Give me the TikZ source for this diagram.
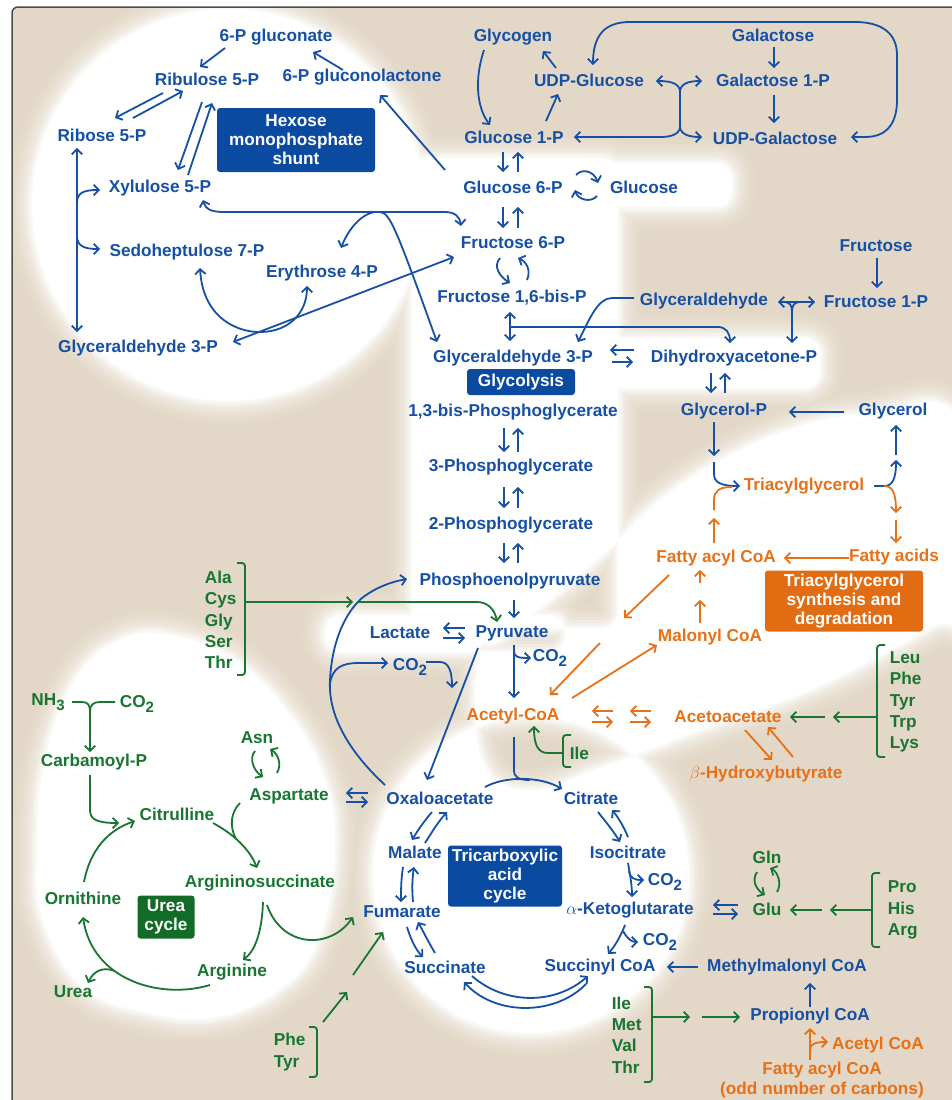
\documentclass[tikz,border=0pt]{standalone}
\usepackage{fontspec}
\setmainfont{Liberation Sans}
\usetikzlibrary{arrows.meta,calc}

\definecolor{mblue}{RGB}{22,80,165}
\definecolor{morange}{RGB}{232,112,22}
\definecolor{mgreen}{RGB}{24,118,50}
\definecolor{bgbeige}{RGB}{227,216,199}
\definecolor{boxblue}{RGB}{10,74,160}
\definecolor{boxorange}{RGB}{226,108,18}
\definecolor{boxgreen}{RGB}{18,108,40}

\newcommand\lsub[1]{\raisebox{-0.3em}{\fontsize{15}{15}\selectfont #1}}

\newcommand\glowshapes{(228,205) circle[radius=196pt] (531,875) circle[radius=158pt]
  plot[smooth cycle, tension=0.7] coordinates {(478,655) (500,640) (550,600) (610,548) (660,500) (725,458) (795,428) (865,414) (958,420) (958,605) (930,628) (817,687) (700,730) (600,768) (530,790) (482,760)}
  plot[smooth cycle, tension=0.7] coordinates {(37,850) (45,760) (75,680) (120,640) (170,635) (235,660) (290,715) (325,780) (335,850) (320,935) (283,987) (217,1017) (150,1013) (83,987) (43,920)}
  [rounded corners=16pt] (412,158) rectangle (618,628) (412,163) rectangle (732,207)
  (590,338) rectangle (820,388) (325,615) rectangle (565,652)}

\tikzset{
  met/.style={inner sep=0pt, font=\fontsize{17.2}{20}\selectfont\bfseries},
  bmet/.style={met, text=mblue},
  omet/.style={met, text=morange},
  gmet/.style={met, text=mgreen},
  aalist/.style={met, text=mgreen, align=left, anchor=west, font=\fontsize{17.2}{21.3}\selectfont\bfseries},
  namebox/.style={met, fill=#1, text=white, align=center, rounded corners=3pt, font=\fontsize{17.2}{19}\selectfont\bfseries},
  blu/.style={draw=mblue},
  org/.style={draw=morange},
  grn/.style={draw=mgreen},
  brk/.style={draw=mgreen, rounded corners=3pt},
}

\begin{document}
\begin{tikzpicture}[x=1pt, y=-1pt, line width=1.8pt, >={Straight Barb[length=5pt,width=10.5pt]}]
\useasboundingbox (0,0) rectangle (952,1100);

% ground
\fill[white] (0,0) rectangle (952,1100);
\fill[bgbeige, rounded corners=6pt] (12,7) rectangle (960,1110);
\begin{scope}
  \clip (12,7) rectangle (952,1100);
  \foreach \w/\c in {46/95,38/88,30/78,23/66,16/52,10/36,5/18}
    \draw[line width=\w pt, bgbeige!\c!white, line join=round] \glowshapes;
  \fill[white] \glowshapes;
\end{scope}
\draw[line width=1.5pt, black!70, rounded corners=6pt] (12,1110) -- (12,7) -- (960,7);

% metabolites
\node[bmet] (gluconate) at (276,37) {6-P gluconate};
\node[bmet] (ribulose) at (207,79) {Ribulose 5-P};
\node[bmet] (lactone) at (362,77) {6-P gluconolactone};
\node[bmet] (ribose) at (102,135) {Ribose 5-P};
\node[bmet] (xylulose) at (160,188) {Xylulose 5-P};
\node[bmet] (sedo) at (187,252) {Sedoheptulose 7-P};
\node[bmet] (erythrose) at (322,273) {Erythrose 4-P};
\node[bmet] (gapL) at (138,348) {Glyceraldehyde 3-P};
\node[bmet] (glycogen) at (513,37) {Glycogen};
\node[bmet] (udpglc) at (589,80) {UDP-Glucose};
\node[bmet] (galactose) at (773,35) {Galactose};
\node[bmet] (gal1p) at (773,80) {Galactose 1-P};
\node[bmet] (udpgal) at (775,138) {UDP-Galactose};
\node[bmet] (glc1p) at (514,137) {Glucose 1-P};
\node[bmet] (glc6p) at (513,187) {Glucose 6-P};
\node[bmet] (glucose) at (644,187) {Glucose};
\node[bmet] (fru6p) at (513,243) {Fructose 6-P};
\node[bmet] (fbp) at (512,298) {Fructose 1,6-bis-P};
\node[bmet] (glyald) at (704,301) {Glyceraldehyde};
\node[bmet] (fructose) at (876,246) {Fructose};
\node[bmet] (fru1p) at (876,302) {Fructose 1-P};
\node[bmet] (gap) at (513,358) {Glyceraldehyde 3-P};
\node[bmet] (dhap) at (734,358) {Dihydroxyacetone-P};
\node[bmet] (bpg) at (513,412) {1,3-bis-Phosphoglycerate};
\node[bmet] (pg3) at (511,467) {3-Phosphoglycerate};
\node[bmet] (pg2) at (511,525) {2-Phosphoglycerate};
\node[bmet] (pep) at (510,581) {Phosphoenolpyruvate};
\node[bmet] (lactate) at (400,633) {Lactate};
\node[bmet] (pyruvate) at (512,633) {Pyruvate};
\node[bmet] (co2a) at (550,658) {CO\lsub{2}};
\node[bmet] (co2b) at (410,667) {CO\lsub{2}};
\node[omet] (acetyl) at (513,716) {Acetyl-CoA};
\node[bmet] (oaa) at (440,798) {Oxaloacetate};
\node[bmet] (citrate) at (591,798) {Citrate};
\node[gmet] (aspartate) at (289,796) {Aspartate};
\node[gmet] (asn) at (257,738) {Asn};
\node[bmet] (malate) at (415,852) {Malate};
\node[bmet] (isocitrate) at (628,852) {Isocitrate};
\node[bmet] (co2c) at (665,882) {CO\lsub{2}};
\node[bmet] (akg) at (630,910) {$\alpha$-Ketoglutarate};
\node[bmet] (co2d) at (660,942) {CO\lsub{2}};
\node[bmet] (fumarate) at (402,912) {Fumarate};
\node[bmet] (succinate) at (445,967) {Succinate};
\node[bmet] (succcoa) at (600,967) {Succinyl CoA};
\node[bmet] (methylmal) at (787,967) {Methylmalonyl CoA};
\node[bmet] (propionyl) at (810,1016) {Propionyl CoA};
\node[omet] (acetylcoa2) at (878,1045) {Acetyl CoA};
\node[omet, align=center] (fattyodd) at (822,1080) {Fatty acyl CoA\\(odd number of carbons)};
\node[gmet] (gln) at (767,857) {Gln};
\node[gmet] (glu) at (767,909) {Glu};
\node[bmet] (glycerolP) at (724,411) {Glycerol-P};
\node[bmet] (glycerol) at (893,411) {Glycerol};
\node[omet] (tag) at (804,486) {Triacylglycerol};
\node[omet] (fattyacyl) at (716,558) {Fatty acyl CoA};
\node[omet] (fattyacids) at (894,557) {Fatty acids};
\node[omet] (malonyl) at (710,637) {Malonyl CoA};
\node[omet] (acetoacetate) at (728,717) {Acetoacetate};
\node[omet] (hydroxybut) at (766,774) {$\beta$-Hydroxybutyrate};
\node[gmet] (nh3) at (48,702) {NH\lsub{3}};
\node[gmet] (co2e) at (137,704) {CO\lsub{2}};
\node[gmet] (carbamoyl) at (94,762) {Carbamoyl-P};
\node[gmet] (citrulline) at (177,814) {Citrulline};
\node[gmet] (argsucc) at (260,883) {Argininosuccinate};
\node[gmet] (ornithine) at (83,898) {Ornithine};
\node[gmet] (arginine) at (232,972) {Arginine};
\node[gmet] (urea) at (73,992) {Urea};

\node[gmet, anchor=west] (ileA) at (569,753) {Ile};
\node[aalist] (acys) at (204,620) {Ala\\Cys\\Gly\\Ser\\Thr};
\node[aalist] (leu) at (889,702) {Leu\\Phe\\Tyr\\Trp\\Lys};
\node[aalist] (phr) at (887,910) {Pro\\His\\Arg};
\node[aalist] (imvt) at (611,1035) {Ile\\Met\\Val\\Thr};
\node[aalist] (phetyr) at (273,1052) {Phe\\Tyr};

\node[namebox=boxblue, minimum width=158pt, minimum height=64pt] (hmpbox) at (296,140) {Hexose\\monophosphate\\shunt};
\node[namebox=boxblue, minimum width=108pt, minimum height=26pt] (glybox) at (521,382) {Glycolysis};
\node[namebox=boxblue, minimum width=114pt, minimum height=61pt] (tcabox) at (505,876) {Tricarboxylic\\acid\\cycle};
\node[namebox=boxorange, minimum width=158pt, minimum height=61pt] (tgbox) at (844,601) {Triacylglycerol\\synthesis and\\degradation};
\node[namebox=boxgreen, minimum width=57pt, minimum height=43pt] (ureabox) at (166,917) {Urea\\cycle};

% junctions
\coordinate (rj1) at (77,203);
\coordinate (rj2) at (77,236);
\coordinate (tk) at (380,212);
\coordinate (aldj) at (510,327);
\coordinate (pdhj) at (514,651);
\coordinate (pcj) at (330,684);
\coordinate (pcend) at (452,688);
\coordinate (aaj) at (353,602);
\coordinate (accj) at (530,780);
\coordinate (icdj) at (629,871);
\coordinate (akgj) at (623,931);
\coordinate (gluj) at (826,910);
\coordinate (acaj) at (829,717);
\coordinate (propj1) at (696,1017);
\coordinate (propj2) at (810,1050);
\coordinate (mcj) at (700,591);
\coordinate (bo1) at (624,618);
\coordinate (bo2) at (600,643);
\coordinate (tagj) at (884,486);
\coordinate (gpj) at (714,456);
\coordinate (uj) at (115,971);
\coordinate (argj) at (236,839);
\coordinate (ptj1) at (347,992);
\coordinate (ptj2) at (353,975);

% hexose monophosphate shunt
\draw[blu,->] ($(gluconate)+(-51,11)$) -- ($(ribulose)+(-7,-12)$);
\draw[blu,->] ($(lactone)+(-19,-7)$) -- ($(gluconate)+(37,15)$);
\draw[blu,->] ($(glc6p)+(-68,-17)$) -- ($(lactone)+(18,18)$);
\draw[blu,->] ($(ribulose)+(-44,14)$) -- ($(ribose)+(13,-17)$);
\draw[blu,->] ($(ribose)+(31,-17)$) -- ($(ribulose)+(-24,12)$);
\draw[blu,->] ($(ribulose)+(-5,23)$) -- ($(xylulose)+(18,-18)$);
\draw[blu,->] ($(xylulose)+(28,-13)$) -- ($(ribulose)+(5,24)$);
\draw[blu,<->] ($(ribose)+(-25,13)$) -- ($(gapL)+(-61,-16)$);
\draw[blu,->] (rj1) .. controls (77,193) and (83,190) .. ($(xylulose)+(-60,2)$);
\draw[blu,->] (rj2) .. controls (77,246) and (84,249) .. ($(sedo)+(-87,-3)$);
\draw[blu,<->] ($(xylulose)+(43,12)$) .. controls (206,210) and (212,212) .. (225,212) -- (445,212) .. controls (455,212) and (460,217) .. ($(fru6p)+(-52,-17)$);
\draw[blu,->] (tk) .. controls (366,210) and (350,225) .. ($(erythrose)+(19,-25)$);
\draw[blu,->] (tk) .. controls (390,213) and (396,228) .. ($(gap)+(-76,-16)$);
\draw[blu,<->] ($(gapL)+(95,-6)$) -- ($(fru6p)+(-59,14)$);
\draw[blu,<->] ($(sedo)+(13,16)$) .. controls (203,320) and (240,333) .. (262,332) .. controls (290,331) and (307,312) .. ($(erythrose)+(-15,13)$);

% glycogen and galactose
\draw[blu,->] ($(glycogen)+(-29,13)$) .. controls (474,80) and (477,108) .. ($(glc1p)+(-24,-12)$);
\draw[blu,->] ($(glc1p)+(32,-16)$) -- ($(udpglc)+(-31,14)$);
\draw[blu,->] ($(udpglc)+(-33,-12)$) -- ($(glycogen)+(30,14)$);
\draw[blu,<->] ($(udpglc)+(67,1)$) .. controls (672,81) and (680,84) .. (680,92) -- (680,126) .. controls (680,134) and (672,137) .. (660,137) -- ($(glc1p)+(60,0)$);
\draw[blu,<->] ($(gal1p)+(-71,1)$) .. controls (688,81) and (680,84) .. (680,92) -- (680,126) .. controls (680,134) and (688,137) .. ($(udpgal)+(-73,-1)$);
\draw[blu,->] ($(galactose)+(1,12)$) -- ($(gal1p)+(1,-12)$);
\draw[blu,->] ($(gal1p)+(1,15)$) -- ($(udpgal)+(-1,-15)$);
\draw[blu,<->] ($(udpgal)+(76,-1)$) -- (865,137) .. controls (888,137) and (897,122) .. (897,100) -- (897,55) .. controls (897,32) and (880,22) .. (855,22) -- (630,22) .. controls (605,22) and (593,35) .. ($(udpglc)+(4,-15)$);

% glycolysis
\draw[blu,->] ($(glc1p)+(-11,15)$) -- ($(glc6p)+(-10,-15)$);
\draw[blu,->] ($(glc6p)+(5,-15)$) -- ($(glc1p)+(4,15)$);
\draw[blu,->] ($(glc6p)+(63,-12)$) .. controls (582,168) and (594,171) .. ($(glucose)+(-46,-4)$);
\draw[blu,->] ($(glucose)+(-47,9)$) .. controls (591,203) and (578,200) .. ($(glc6p)+(62,3)$);
\draw[blu,->] ($(glc6p)+(-10,20)$) -- ($(fru6p)+(-10,-15)$);
\draw[blu,->] ($(fru6p)+(5,-15)$) -- ($(glc6p)+(5,20)$);
\draw[blu,->] ($(fru6p)+(-13,15)$) .. controls (493,266) and (499,276) .. ($(fbp)+(-2,-15)$);
\draw[blu,->] ($(fbp)+(15,-18)$) .. controls (531,271) and (527,262) .. ($(fru6p)+(5,15)$);
\draw[blu,<->] ($(fbp)+(-2,14)$) -- ($(gap)+(-3,-17)$);
\draw[blu,->] (aldj) -- (718,327) .. controls (726,327) and (730,333) .. ($(dhap)+(-4,-15)$);
\draw[blu,->] ($(glyald)+(-70,-3)$) -- (612,298) .. controls (598,298) and (590,318) .. ($(gap)+(65,-16)$);
\draw[blu,<->] ($(glyald)+(74,1)$) -- ($(fru1p)+(-61,0)$);
\draw[blu,->] (783,302) .. controls (790,302) and (792,305) .. (792,312) -- ($(dhap)+(58,-15)$);
\draw[blu] (801,302) .. controls (794,302) and (792,305) .. (792,312);
\draw[blu,->] ($(fructose)+(1,12)$) -- ($(fru1p)+(1,-14)$);
\draw[blu,->] ($(dhap)+(-100,-8)$) -- ($(gap)+(97,-8)$);
\draw[blu,->] ($(gap)+(99,4)$) -- ($(dhap)+(-101,4)$);
\draw[blu,->] ($(bpg)+(-9,16)$) -- ($(pg3)+(-7,-15)$);
\draw[blu,->] ($(pg3)+(7,-15)$) -- ($(bpg)+(5,16)$);
\draw[blu,->] ($(pg3)+(-7,20)$) -- ($(pg2)+(-7,-17)$);
\draw[blu,->] ($(pg2)+(7,-17)$) -- ($(pg3)+(7,20)$);
\draw[blu,->] ($(pg2)+(-7,18)$) -- ($(pep)+(-6,-18)$);
\draw[blu,->] ($(pep)+(8,-18)$) -- ($(pg2)+(7,18)$);
\draw[blu,->] ($(pep)+(4,19)$) -- ($(pyruvate)+(2,-15)$);
\draw[blu,->] ($(pyruvate)+(-47,-5)$) -- ($(lactate)+(43,-5)$);
\draw[blu,->] ($(lactate)+(43,5)$) -- ($(pyruvate)+(-47,5)$);
\draw[blu,->] ($(pyruvate)+(2,12)$) -- ($(acetyl)+(1,-18)$);
\draw[blu,->] (pdhj) .. controls (514,657) and (518,658) .. ($(co2a)+(-19,0)$);
\draw[blu,->] ($(pyruvate)+(-34,15)$) -- ($(oaa)+(-13,-18)$);
\draw[blu,->] ($(oaa)+(-55,-13)$) .. controls (345,748) and (328,712) .. (330,680) .. controls (332,640) and (346,612) .. (362,598) .. controls (375,588) and (390,582) .. ($(pep)+(-103,-2)$);
\draw[blu,->] (pcj) .. controls (332,668) and (342,663) .. (358,663) -- ($(co2b)+(-22,-4)$);
\draw[blu,->] ($(co2b)+(16,-5)$) -- (440,662) .. controls (449,662) and (452,672) .. (pcend);

% amino acids to pyruvate and acetyl-CoA
\draw[brk] ($(acys.west)+(33,-57)$) -- ($(acys.west)+(41,-57)$) -- ($(acys.west)+(41,55)$) -- ($(acys.west)+(33,55)$);
\draw[grn,->] ($(acys.west)+(41,-18)$) -- (aaj);
\draw[grn,->] ($(aaj)+(5,0)$) -- (477,602) .. controls (488,602) and (495,610) .. ($(pyruvate)+(-15,-11)$);
\draw[brk] ($(ileA.west)+(2,-18)$) -- ($(ileA.west)+(-6,-18)$) -- ($(ileA.west)+(-6,14)$) -- ($(ileA.west)+(2,14)$);
\draw[grn,->] ($(ileA.west)+(-6,0)$) -- (548,753) .. controls (538,753) and (534,745) .. ($(acetyl)+(21,10)$);

% citric acid cycle
\draw[blu] ($(acetyl)+(1,21)$) -- (514,770) .. controls (514,777) and (518,780) .. (accj);
\draw[blu,->] ($(oaa)+(45,-11)$) .. controls (505,776) and (540,776) .. ($(citrate)+(-29,-9)$);
\draw[blu,->] ($(oaa)+(-8,14)$) .. controls (425,820) and (418,830) .. ($(malate)+(-3,-12)$);
\draw[blu,->] ($(malate)+(10,-9)$) .. controls (432,832) and (438,822) .. ($(oaa)+(7,14)$);
\draw[blu,->] ($(malate)+(-12,15)$) .. controls (401,880) and (401,890) .. ($(fumarate)+(-1,-10)$);
\draw[blu,->] ($(fumarate)+(11,-10)$) .. controls (412,890) and (412,880) .. ($(malate)+(-1,15)$);
\draw[blu,->] ($(fumarate)+(5,15)$) .. controls (411,940) and (416,950) .. ($(succinate)+(-22,-10)$);
\draw[blu,->] ($(succinate)+(-10,-14)$) .. controls (429,943) and (424,933) .. ($(fumarate)+(16,10)$);
\draw[blu,->] ($(succcoa)+(-14,17)$) .. controls (555,1016) and (495,1016) .. ($(succinate)+(19,15)$);
\draw[blu,->] ($(succinate)+(27,9)$) .. controls (505,1005) and (555,1005) .. ($(succcoa)+(-12,9)$);
\draw[blu,->] ($(citrate)+(7,14)$) .. controls (606,822) and (614,832) .. ($(isocitrate)+(-8,-10)$);
\draw[blu,->] ($(isocitrate)+(0,-15)$) .. controls (624,827) and (618,817) .. ($(citrate)+(21,12)$);
\draw[blu,->] ($(isocitrate)+(0,11)$) .. controls (630,875) and (632,885) .. ($(akg)+(2,-13)$);
\draw[blu,->] (icdj) .. controls (630,878) and (634,880) .. ($(co2c)+(-21,-2)$);
\draw[blu,->] ($(akg)+(-5,15)$) .. controls (620,938) and (614,947) .. ($(succcoa)+(8,-13)$);
\draw[blu,->] (akgj) .. controls (627,938) and (631,942) .. ($(co2d)+(-22,0)$);
\draw[blu,->] ($(glu)+(-29,-4)$) -- ($(akg)+(83,-5)$);
\draw[blu,->] ($(akg)+(83,4)$) -- ($(glu)+(-29,5)$);
\draw[blu,->] ($(oaa)+(-72,-5)$) -- ($(aspartate)+(57,-3)$);
\draw[blu,->] ($(aspartate)+(57,6)$) -- ($(oaa)+(-72,4)$);
\draw[grn,->] ($(asn)+(-2,13)$) .. controls (249,758) and (253,770) .. ($(aspartate)+(-26,-19)$);
\draw[grn,->] ($(aspartate)+(-12,-23)$) .. controls (282,764) and (278,754) .. ($(asn)+(13,11)$);
\draw[grn,->] ($(gln)+(-10,15)$) .. controls (751,881) and (757,890) .. ($(glu)+(-2,-14)$);
\draw[grn,->] ($(glu)+(10,-17)$) .. controls (782,884) and (778,872) .. ($(gln)+(3,11)$);
\draw[brk] ($(phr.west)+(-7,-37)$) -- ($(phr.west)+(-15,-37)$) -- ($(phr.west)+(-15,37)$) -- ($(phr.west)+(-7,37)$);
\draw[grn,->] ($(phr.west)+(-15,0)$) -- ($(gluj)+(4,0)$);
\draw[grn,->] ($(gluj)+(-4,0)$) -- ($(glu)+(23,1)$);

% propionate
\draw[blu,->] ($(methylmal)+(-89,0)$) -- ($(succcoa)+(67,0)$);
\draw[blu,->] ($(propionyl)+(0,-9)$) -- ($(methylmal)+(23,16)$);
\draw[brk] ($(imvt.west)+(33,-48)$) -- ($(imvt.west)+(41,-48)$) -- ($(imvt.west)+(41,47)$) -- ($(imvt.west)+(33,47)$);
\draw[grn,->] ($(imvt.west)+(41,-18)$) -- ($(propj1)+(-6,0)$);
\draw[grn,->] ($(propj1)+(6,0)$) -- ($(propionyl)+(-70,1)$);
\draw[org,->] ($(fattyodd)+(-12,-20)$) -- ($(propionyl)+(0,12)$);
\draw[org,->] (propj2) .. controls (810,1044) and (815,1042) .. ($(acetylcoa2)+(-50,-3)$);

% lipids and ketone bodies
\draw[blu,->] ($(glycerol)+(-49,1)$) -- ($(glycerolP)+(65,1)$);
\draw[blu,->] ($(dhap)+(-23,15)$) -- ($(glycerolP)+(-13,-18)$);
\draw[blu,->] ($(glycerolP)+(1,-18)$) -- ($(dhap)+(-9,15)$);
\draw[blu,->] ($(glycerolP)+(-10,11)$) -- (gpj);
\draw[blu,->] ($(gpj)+(0,6)$) -- (714,474) .. controls (714,482) and (720,486) .. ($(tag)+(-64,0)$);
\draw[org] ($(fattyacyl)+(-2,-48)$) -- (714,500) .. controls (714,491) and (719,487) .. (732,487);
\draw[org,->] ($(fattyacyl)+(-2,-15)$) -- ($(fattyacyl)+(-2,-40)$);
\draw[blu] ($(tag)+(70,0)$) -- (tagj);
\draw[blu,->] (tagj) .. controls (892,486) and (896,480) .. ($(glycerol)+(3,49)$);
\draw[blu,->] ($(glycerol)+(3,44)$) -- ($(glycerol)+(3,14)$);
\draw[org,->] (tagj) .. controls (892,486) and (896,492) .. ($(fattyacids)+(2,-44)$);
\draw[org,->] ($(fattyacids)+(2,-37)$) -- ($(fattyacids)+(2,-14)$);
\draw[org,->] ($(fattyacids)+(-45,1)$) -- ($(fattyacyl)+(68,0)$);
\draw[org,->] ($(malonyl)+(-10,-14)$) -- ($(mcj)+(0,9)$);
\draw[org,->] ($(mcj)+(0,-8)$) -- ($(fattyacyl)+(-16,12)$);
\draw[org,->] ($(fattyacyl)+(-47,17)$) -- (bo1);
\draw[org,->] (bo2) -- ($(acetyl)+(37,-21)$);
\draw[org,->] ($(acetyl)+(59,-18)$) -- ($(malonyl)+(-53,8)$);
\draw[org,->] ($(acetyl)+(100,-5)$) -- ($(acetyl)+(79,-5)$);
\draw[org,->] ($(acetyl)+(79,6)$) -- ($(acetyl)+(100,6)$);
\draw[org,->] ($(acetoacetate)+(-77,-6)$) -- ($(acetoacetate)+(-98,-6)$);
\draw[org,->] ($(acetoacetate)+(-98,5)$) -- ($(acetoacetate)+(-77,5)$);
\draw[org,->] ($(acetoacetate)+(17,13)$) -- ($(hydroxybut)+(6,-14)$);
\draw[org,->] ($(hydroxybut)+(27,-17)$) -- ($(acetoacetate)+(40,10)$);
\draw[brk] ($(leu.west)+(-4,-57)$) -- ($(leu.west)+(-12,-57)$) -- ($(leu.west)+(-12,55)$) -- ($(leu.west)+(-4,55)$);
\draw[grn,->] ($(leu.west)+(-12,15)$) -- ($(acaj)+(4,0)$);
\draw[grn,->] ($(acaj)+(-4,0)$) -- ($(acetoacetate)+(62,0)$);

% urea cycle
\draw[grn] ($(nh3)+(24,0)$) -- (82,702) .. controls (88,702) and (90,705) .. (90,712);
\draw[grn,->] ($(co2e)+(-22,-2)$) -- (100,702) .. controls (93,702) and (90,705) .. (90,712) -- ($(carbamoyl)+(-4,-10)$);
\draw[grn,->] ($(carbamoyl)+(-4,13)$) -- (90,810) .. controls (90,819) and (96,823) .. ($(citrulline)+(-58,9)$);
\draw[grn,->] ($(ornithine)+(1,-16)$) .. controls (90,850) and (108,830) .. ($(citrulline)+(-42,7)$);
\draw[grn,->] ($(citrulline)+(36,9)$) .. controls (235,835) and (250,850) .. ($(argsucc)+(-3,-15)$);
\draw[grn] ($(aspartate)+(-49,7)$) .. controls (231,812) and (229,826) .. (argj);
\draw[grn,->] ($(argsucc)+(3,19)$) .. controls (262,930) and (256,950) .. ($(arginine)+(11,-12)$);
\draw[grn,->] ($(argsucc)+(7,22)$) .. controls (282,948) and (330,950) .. ($(fumarate)+(-49,5)$);
\draw[grn,->] ($(arginine)+(-22,13)$) .. controls (160,1000) and (92,980) .. ($(ornithine)+(0,19)$);
\draw[grn,->] (uj) .. controls (102,966) and (93,972) .. ($(urea)+(15,-9)$);
\draw[brk] ($(phetyr.west)+(36,-25)$) -- ($(phetyr.west)+(44,-25)$) -- ($(phetyr.west)+(44,25)$) -- ($(phetyr.west)+(36,25)$);
\draw[grn,->] ($(phetyr.west)+(50,-30)$) -- (ptj1);
\draw[grn,->] (ptj2) -- ($(fumarate)+(-19,20)$);
\end{tikzpicture}
\end{document}
